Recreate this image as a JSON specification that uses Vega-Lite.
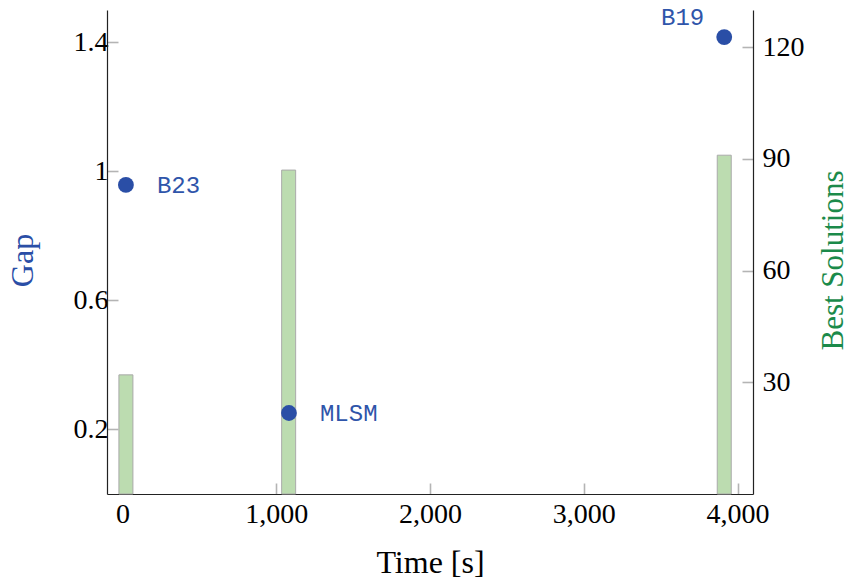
{
  "$schema": "https://vega.github.io/schema/vega-lite/v6.json",
  "width": 646,
  "height": 484,
  "autosize": "none",
  "padding": {"left": 107, "top": 10, "right": 97, "bottom": 87},
  "background": "white",
  "config": {
    "view": {"stroke": null},
    "axis": {
      "labelFont": "Liberation Serif",
      "titleFont": "Liberation Serif",
      "labelFontSize": 28,
      "titleFontSize": 32,
      "titleFontWeight": "normal",
      "labelColor": "black",
      "tickColor": "#b4b4b4",
      "tickSize": -11,
      "tickWidth": 1.6,
      "domainColor": "#222222",
      "domainWidth": 1.2,
      "grid": false,
      "zindex": 1
    }
  },
  "datasets": {
    "bars": [
      {"time": 23, "best": 32},
      {"time": 1081, "best": 87},
      {"time": 3913, "best": 91}
    ],
    "pts": [
      {"time": 23, "gap": 0.958, "method": "B23"},
      {"time": 1083, "gap": 0.251, "method": "MLSM"},
      {"time": 3913, "gap": 1.416, "method": "B19"}
    ]
  },
  "layer": [
    {
      "data": {"name": "bars"},
      "mark": {"type": "bar", "size": 14, "fill": "#bcdcb0", "stroke": "#aaaaaa", "strokeWidth": 1},
      "encoding": {
        "x": {"field": "time", "type": "quantitative", "scale": {"domain": [-100, 4100], "nice": false, "zero": false, "padding": 0},
          "axis": {"values": [0, 1000, 2000, 3000, 4000], "format": ",d", "title": "Time [s]", "labelPadding": 17, "titlePadding": 19}},
        "y": {"field": "best", "type": "quantitative", "scale": {"domain": [0, 130], "nice": false},
          "axis": {"orient": "right", "values": [30, 60, 90, 120], "title": "Best Solutions", "titleColor": "#1b8a4a", "titleFontSize": 31, "titleAngle": 270, "titleY": 250, "labelPadding": 20, "titlePadding": 45}}
      }
    },
    {
      "data": {"name": "pts"},
      "layer": [
        {
          "mark": {"type": "point", "filled": true, "shape": "circle", "size": 250, "color": "#2a4ea6", "opacity": 1},
          "encoding": {
            "x": {"field": "time", "type": "quantitative"},
            "y": {"field": "gap", "type": "quantitative", "scale": {"domain": [0, 1.5], "nice": false},
              "axis": {"orient": "left", "values": [0.2, 0.6, 1, 1.4], "format": "~g", "title": "Gap", "titleColor": "#2a4ea6", "titleY": 250, "labelPadding": 10, "titlePadding": 34}}
          }
        },
        {
          "transform": [{"filter": "datum.method != 'B19'"}],
          "mark": {"type": "text", "align": "left", "baseline": "middle", "dx": 31, "dy": 1, "font": "Liberation Mono", "fontSize": 24, "color": "#2f55aa"},
          "encoding": {
            "x": {"field": "time", "type": "quantitative"},
            "y": {"field": "gap", "type": "quantitative"},
            "text": {"field": "method"}
          }
        },
        {
          "transform": [{"filter": "datum.method == 'B19'"}],
          "mark": {"type": "text", "align": "right", "baseline": "middle", "dx": -20, "dy": -19, "font": "Liberation Mono", "fontSize": 24, "color": "#2f55aa"},
          "encoding": {
            "x": {"field": "time", "type": "quantitative"},
            "y": {"field": "gap", "type": "quantitative"},
            "text": {"field": "method"}
          }
        }
      ]
    }
  ],
  "resolve": {"scale": {"y": "independent"}, "axis": {"y": "independent"}}
}
